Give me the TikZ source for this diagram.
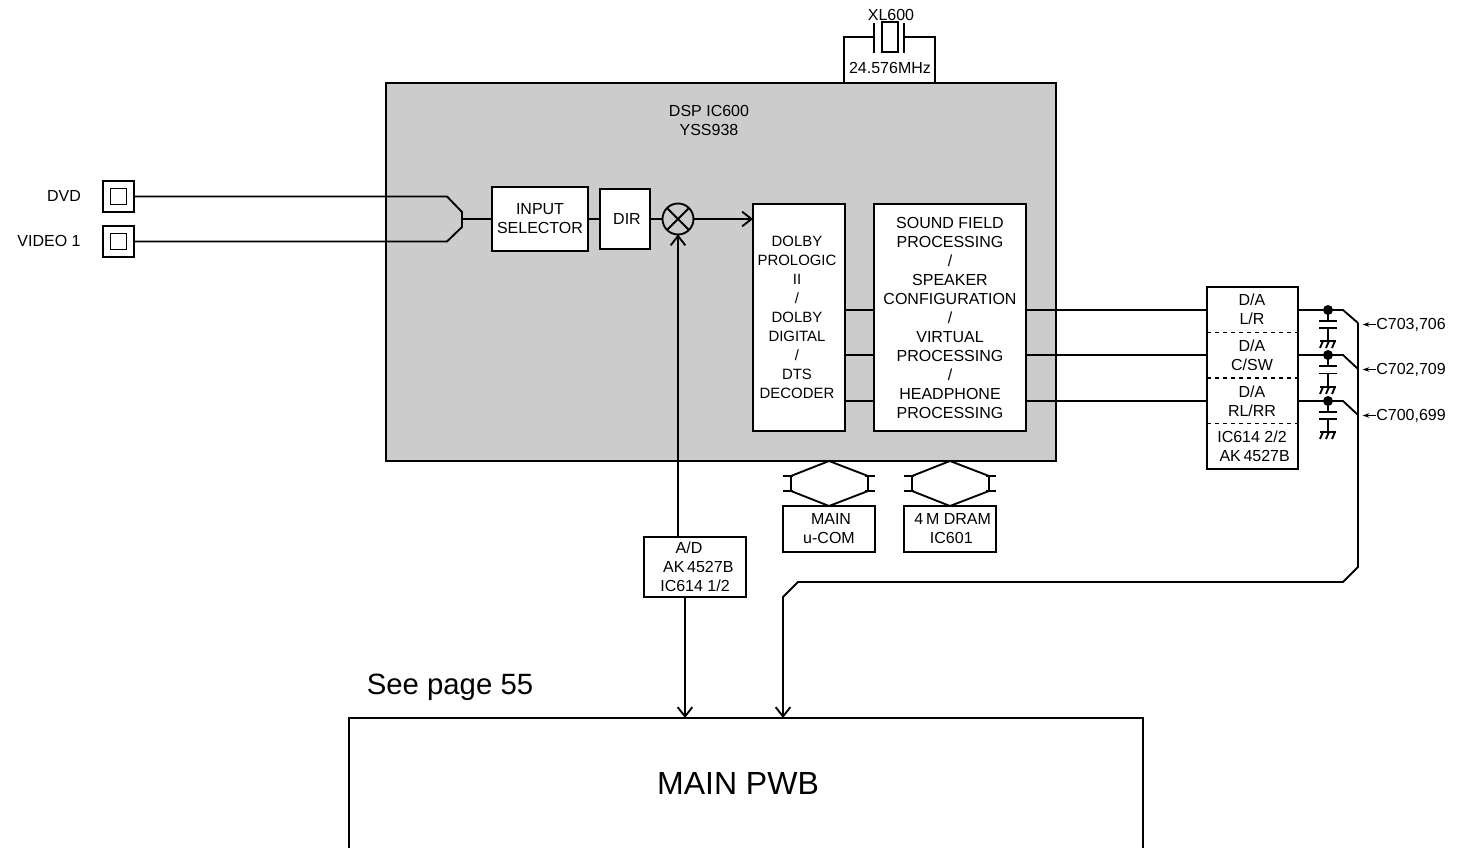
\documentclass[tikz,border=0pt]{standalone}
\usepackage{fontspec}
\setmainfont{Liberation Sans}
\usetikzlibrary{arrows.meta}
\begin{document}
\begin{tikzpicture}[x=0.75pt,y=-0.75pt,line width=1.4pt,
  every node/.style={font=\fontsize{12}{14.25}\selectfont,align=center,inner sep=0pt,outer sep=0pt},
  box/.style={draw,fill=white},
  wire/.style={-{Straight Barb[length=7pt,width=11pt,line width=1.4pt]}},
  tag/.style={-{Stealth[length=5pt,width=3.5pt]},line width=0.9pt}]
\useasboundingbox (0,0) rectangle (1457,848);

\node[draw,fill=black!20,minimum width=670*0.75pt,minimum height=378*0.75pt] (dsp) at (721,272) {};
\node (dsptext) at (709,120) {DSP IC600\\YSS938};

% inputs
\node (dvd) at (64,196) {DVD};
\node (video) at (49,241) {VIDEO 1};
\node[draw,minimum width=31*0.75pt,minimum height=31*0.75pt] (jdvd) at (118.5,196.5) {};
\node[draw,minimum width=16*0.75pt,minimum height=16*0.75pt] (jdvdin) at (118.5,196.5) {};
\node[draw,minimum width=31*0.75pt,minimum height=31*0.75pt] (jvideo) at (118.5,241.5) {};
\node[draw,minimum width=16*0.75pt,minimum height=16*0.75pt] (jvideoin) at (118.5,241.5) {};

\node[box,minimum width=96*0.75pt,minimum height=64*0.75pt] (sel) at (540,219) {INPUT\\SELECTOR};
\node[box,minimum width=50*0.75pt,minimum height=60*0.75pt] (dir) at (625,219) {\hspace*{3pt}DIR};
\node[draw,circle,minimum size=31*0.75pt] (mix) at (678,219) {};
\node[box,minimum width=92*0.75pt,minimum height=227*0.75pt,font=\fontsize{11.2}{14.25}\selectfont] (dolby) at (799,317.5)
  {\hspace*{-3pt}DOLBY\\\hspace*{-3pt}PROLOGIC\\\hspace*{-3pt}II\\\hspace*{-3pt}/\\\hspace*{-3pt}DOLBY\\\hspace*{-3pt}DIGITAL\\\hspace*{-3pt}/\\\hspace*{-3pt}DTS\\\hspace*{-3pt}DECODER};
\node[box,minimum width=152*0.75pt,minimum height=227*0.75pt] (sound) at (950,317.5)
  {SOUND FIELD\\PROCESSING\\/\\SPEAKER\\CONFIGURATION\\/\\VIRTUAL\\PROCESSING\\/\\HEADPHONE\\PROCESSING};
\node[box,minimum width=91*0.75pt,minimum height=182*0.75pt] (da) at (1252.5,378) {};
\node (dalr) at (1252,309.5) {D/A\\L/R};
\node (dacsw) at (1252,355) {D/A\\C/SW};
\node (darl) at (1252,401) {D/A\\RL/RR};
\node (daic) at (1252,446) {IC614 2/2\\\hspace*{4pt}AK\,4527B};

\node[box,minimum width=102*0.75pt,minimum height=60*0.75pt] (ad) at (695,567)
  {A/D\hspace*{9pt}\\\hspace*{5pt}AK\,4527B\\IC614 1/2};
\node[box,minimum width=92*0.75pt,minimum height=46*0.75pt] (ucom) at (829,529) {\hspace*{3pt}MAIN\\u-COM};
\node[box,minimum width=92*0.75pt,minimum height=46*0.75pt] (dram) at (950,529) {\hspace*{4pt}4\,M DRAM\\\hspace*{2pt}IC601};

\node[draw,minimum width=794*0.75pt,minimum height=132*0.75pt] (pwb) at (746,784) {};
\node[font=\fontsize{24}{28}\selectfont] (pwbtext) at (738,783) {MAIN PWB};
\node[font=\fontsize{22}{26}\selectfont] (seepage) at (450,687) {See page 55};

% crystal
\node (xl) at (891,15) {XL600};
\node (mhz) at (890,68) {24.576MHz};
\node[draw,minimum width=16*0.75pt,minimum height=30*0.75pt] (xtal) at (890,37) {};
\coordinate (pl) at (874,37);
\coordinate (pr) at (904,37);
\draw (874,23) -- (874,53);
\draw (904,23) -- (904,53);
\draw (dsp.north -| 844,0) -- (844,37) -- (pl);
\draw (dsp.north -| 935,0) -- (935,37) -- (pr);

% input bus
\coordinate (busa) at (462,212);
\coordinate (busb) at (462,227);
\draw (jdvd.east) -- (447,196.5) -- (busa) -- (busb) -- (447,241.5) -- (jvideo.east);
\draw (462,219) -- (sel.west);
\draw (sel.east) -- (dir.west);
\draw (dir.east) -- (mix.west);
\draw (mix.north west) -- (mix.south east);
\draw (mix.north east) -- (mix.south west);
\draw[wire] (mix.east) -- (dolby.west |- mix);
\draw[wire] (ad.north -| mix) -- (mix.south);

% outputs
\coordinate (c1) at (1358,323);
\coordinate (c2) at (1358,369);
\coordinate (c3) at (1358,415);
\draw (dolby.east |- 0,310) -- (sound.west |- 0,310);
\draw (dolby.east |- 0,355) -- (sound.west |- 0,355);
\draw (dolby.east |- 0,401) -- (sound.west |- 0,401);
\draw (sound.east |- 0,310) -- (da.west |- 0,310);
\draw (sound.east |- 0,355) -- (da.west |- 0,355);
\draw (sound.east |- 0,401) -- (da.west |- 0,401);
\draw (da.east |- 0,310) -- (1343,310) -- (c1);
\draw (da.east |- 0,355) -- (1343,355) -- (c2);
\draw (da.east |- 0,401) -- (1343,401) -- (c3);
\draw[wire] (c1) -- (1358,567) -- (1343,582) -- (798,582) -- (783,597) -- (pwb.north -| 783,0);
\draw[wire] (ad.south -| 685,0) -- (pwb.north -| 685,0);
\draw[dashed,line width=0.8pt] (da.west |- 0,332.5) -- (da.east |- 0,332.5);
\draw[dashed,line width=0.8pt] (da.west |- 0,378) -- (da.east |- 0,378);
\draw[dashed,line width=0.8pt] (da.west |- 0,423.5) -- (da.east |- 0,423.5);

% capacitors
\fill (1328,310) circle (5);
\draw (1328,310) -- (1328,321) (1319,321) -- (1337,321);
\draw (1319,328) -- (1337,328) (1328,328) -- (1328,341);
\draw (1320,341) -- (1336,341);
\draw (1320,348) -- (1323,341) (1326,348) -- (1329,341) (1332,348) -- (1335,341);
\fill (1328,355) circle (5);
\draw (1328,355) -- (1328,366) (1319,366) -- (1337,366);
\draw (1319,373.5) -- (1337,373.5) (1328,373.5) -- (1328,387);
\draw (1320,387) -- (1336,387);
\draw (1320,394) -- (1323,387) (1326,394) -- (1329,387) (1332,394) -- (1335,387);
\fill (1328,401) circle (5);
\draw (1328,401) -- (1328,412) (1319,412) -- (1337,412);
\draw (1319,419) -- (1337,419) (1328,419) -- (1328,432);
\draw (1320,432) -- (1336,432);
\draw (1320,439) -- (1323,432) (1326,439) -- (1329,432) (1332,439) -- (1335,432);

% tags
\node (t1) at (1411,324.5) {C703,706};
\node (t2) at (1411,369.5) {C702,709};
\node (t3) at (1411,415.5) {C700,699};
\draw[tag] (t1.west) -- ([xshift=3.5pt]c1 |- t1);
\draw[tag] (t2.west) -- ([xshift=3.5pt]c2 |- t2);
\draw[tag] (t3.west) -- ([xshift=3.5pt]c3 |- t3);

% memory links
\draw (783,476) -- (793,476) (783,491) -- (793,491) (791,476) -- (791,491);
\draw (865,476) -- (875,476) (865,491) -- (875,491) (868,476) -- (868,491);
\draw (791,476) -- (dsp.south -| 829,0) -- (868,476);
\draw (791,491) -- (ucom.north) -- (868,491);
\draw (904,476) -- (914,476) (904,491) -- (914,491) (912,476) -- (912,491);
\draw (986,476) -- (996,476) (986,491) -- (996,491) (989,476) -- (989,491);
\draw (912,476) -- (dsp.south -| 950,0) -- (989,476);
\draw (912,491) -- (dram.north) -- (989,491);
\end{tikzpicture}
\end{document}
